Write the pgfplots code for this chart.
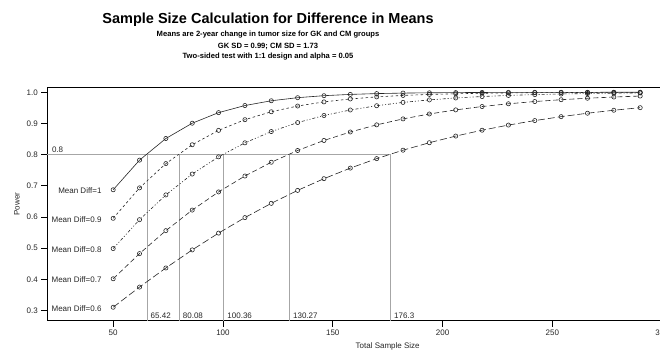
\documentclass[border=0pt]{standalone}
\usepackage{fontspec}
\setmainfont{Liberation Sans}
\usepackage{pgfplots}
\usepackage{pgfplotstable}
\pgfplotsset{compat=1.18}

\pgfplotstableread{
n   d10    d09    d08    d07    d06
50  0.6871 0.5956 0.4985 0.4015 0.3102
62  0.7823 0.6933 0.5912 0.4823 0.3749
74  0.8517 0.7712 0.6707 0.5560 0.4363
86  0.9008 0.8317 0.7376 0.6220 0.4942
98  0.9347 0.8778 0.7928 0.6803 0.5481
110 0.9575 0.9121 0.8378 0.7313 0.5979
122 0.9728 0.9375 0.8740 0.7755 0.6436
134 0.9827 0.9559 0.9028 0.8132 0.6852
146 0.9891 0.9692 0.9255 0.8454 0.7228
158 0.9932 0.9786 0.9432 0.8726 0.7567
170 0.9958 0.9852 0.9569 0.8955 0.7871
182 0.9974 0.9899 0.9675 0.9146 0.8142
194 0.9984 0.9931 0.9756 0.9304 0.8382
206 0.9990 0.9953 0.9818 0.9435 0.8595
218 0.9994 0.9968 0.9864 0.9543 0.8783
230 0.9997 0.9979 0.9899 0.9631 0.8948
242 0.9998 0.9986 0.9926 0.9703 0.9092
254 0.9999 0.9991 0.9945 0.9762 0.9218
266 0.9999 0.9994 0.9960 0.9809 0.9328
278 1.0000 0.9996 0.9971 0.9848 0.9424
290 1.0000 0.9997 0.9978 0.9879 0.9506
}\powertab

\begin{document}
\begin{tikzpicture}[x=1pt,y=1pt]
\useasboundingbox (0,0) rectangle (660,356);
\node[font=\fontsize{14.5}{17}\selectfont\bfseries] at (268,336) {Sample Size Calculation for Difference in Means};
\node[font=\fontsize{7.6}{9}\selectfont\bfseries] at (268,321) {Means are 2-year change in tumor size for GK and CM groups};
\node[font=\fontsize{7.6}{9}\selectfont\bfseries] at (268,310) {GK SD = 0.99; CM SD = 1.73};
\node[font=\fontsize{7.6}{9}\selectfont\bfseries] at (268,299) {Two-sided test with 1:1 design and alpha = 0.05};
\begin{axis}[
  at={(47.3pt,35.3pt)}, anchor=south west,
  scale only axis, width=680.7pt, height=233.4pt,
  xmin=20, xmax=330, ymin=0.267, ymax=1.016,
  xtick={50,100,150,200,250,300},
  ytick={0.3,0.4,0.5,0.6,0.7,0.8,0.9,1.0},
  tick pos=left, tick align=outside, major tick length=6pt,
  tick style={black, line width=0.6pt},
  axis line style={line width=0.6pt},
  /pgf/number format/assume math mode=true,
  yticklabel style={/pgf/number format/fixed, /pgf/number format/fixed zerofill, /pgf/number format/precision=1},
  xticklabel style={/pgf/number format/fixed},
  ticklabel style={font=\fontsize{8}{9}\selectfont, text=black!85},
  label style={font=\fontsize{8}{9}\selectfont, text=black!85},
  xlabel={Total Sample Size},
  ylabel={Power},
  clip=false,
]
% reference lines
\addplot[gray!70, line width=0.6pt, forget plot] coordinates {(20,0.8) (176.3,0.8)};
\addplot[gray!70, line width=0.6pt, forget plot] coordinates {(65.42,0.267) (65.42,0.8)};
\addplot[gray!70, line width=0.6pt, forget plot] coordinates {(80.08,0.267) (80.08,0.8)};
\addplot[gray!70, line width=0.6pt, forget plot] coordinates {(100.36,0.267) (100.36,0.8)};
\addplot[gray!70, line width=0.6pt, forget plot] coordinates {(130.27,0.267) (130.27,0.8)};
\addplot[gray!70, line width=0.6pt, forget plot] coordinates {(176.3,0.267) (176.3,0.8)};
\begin{scope}[every node/.style={font=\fontsize{8}{9}\selectfont, text=black!85}]
\node[anchor=south west, inner sep=2pt, xshift=1.5pt] at (axis cs:65.42,0.267) {65.42};
\node[anchor=south west, inner sep=2pt, xshift=1.5pt] at (axis cs:80.08,0.267) {80.08};
\node[anchor=south west, inner sep=2pt, xshift=1.5pt] at (axis cs:100.36,0.267) {100.36};
\node[anchor=south west, inner sep=2pt, xshift=1.5pt] at (axis cs:130.27,0.267) {130.27};
\node[anchor=south west, inner sep=2pt, xshift=1.5pt] at (axis cs:176.3,0.267) {176.3};
\node[anchor=south west, inner sep=2pt, xshift=2.5pt] at (axis cs:20,0.8) {0.8};
\node[anchor=east, inner sep=0pt, xshift=-11.5pt, yshift=-1pt] at (axis cs:50,0.6871) {Mean Diff=1};
\node[anchor=east, inner sep=0pt, xshift=-11.5pt, yshift=-1pt] at (axis cs:50,0.5956) {Mean Diff=0.9};
\node[anchor=east, inner sep=0pt, xshift=-11.5pt, yshift=-1pt] at (axis cs:50,0.4985) {Mean Diff=0.8};
\node[anchor=east, inner sep=0pt, xshift=-11.5pt, yshift=-1pt] at (axis cs:50,0.4015) {Mean Diff=0.7};
\node[anchor=east, inner sep=0pt, xshift=-11.5pt, yshift=-1pt] at (axis cs:50,0.3102) {Mean Diff=0.6};
\end{scope}
% curves
\addplot[black!85, line width=0.6pt, dash pattern=on 7pt off 3pt, mark=o, mark size=2.1pt, mark options={solid, fill=white}] table[x=n, y=d06] {\powertab};
\addplot[black!85, line width=0.6pt, dash pattern=on 5pt off 3pt, mark=o, mark size=2.1pt, mark options={solid, fill=white}] table[x=n, y=d07] {\powertab};
\addplot[black!85, line width=0.6pt, dash pattern=on 3pt off 2pt on 1pt off 2pt on 1pt off 2pt, mark=o, mark size=2.1pt, mark options={solid, fill=white}] table[x=n, y=d08] {\powertab};
\addplot[black!85, line width=0.6pt, dash pattern=on 2.5pt off 2.5pt, mark=o, mark size=2.1pt, mark options={solid, fill=white}] table[x=n, y=d09] {\powertab};
\addplot[black!85, line width=0.6pt, mark=o, mark size=2.1pt, mark options={solid, fill=white}] table[x=n, y=d10] {\powertab};
\end{axis}
\end{tikzpicture}
\end{document}
